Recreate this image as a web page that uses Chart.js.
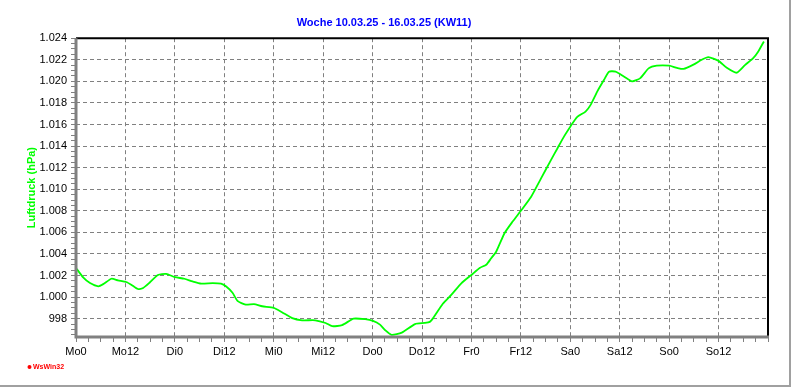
<!DOCTYPE html>
<html>
<head>
<meta charset="utf-8">
<script src="https://cdn.jsdelivr.net/npm/chart.js@4"></script>
<style>
  body { margin: 0; background: #fff; }
  canvas { display: block; }
</style>
</head>
<body>
<canvas id="wochen_chart" width="792" height="387"></canvas>
<script>
const titleText = "Woche 10.03.25 - 16.03.25 (KW11)";
const yTitle = "Luftdruck (hPa)";
const dayLabels = ["Mo0", "Mo12", "Di0", "Di12", "Mi0", "Mi12", "Do0", "Do12",
  "Fr0", "Fr12", "Sa0", "Sa12", "So0", "So12"];
// hours since Mo 0:00
const hours = [0, 1.8, 3.4, 5.4, 6.6, 8.6, 10.2, 12.2, 13.4, 15, 16.3, 17.9,
  19.9, 21.9, 24, 26.3, 28.3, 30.4, 33.2, 35.2, 36.4, 38, 39.2, 41.2, 43.2,
  45.2, 48, 50, 52.5, 54.9, 58.1, 60.6, 62.2, 64.6, 67.4, 70.2, 72.1, 73.8,
  75, 76.6, 79.1, 82.3, 84.7, 85.9, 86.7, 89.1, 91.1, 93.6, 96, 98, 99.6,
  100.8, 102, 104, 106, 108, 110.5, 112.9, 115.3, 116.9, 118.5, 120, 121.7,
  123.7, 124.9, 126.6, 128.2, 129.4, 131, 133, 135, 137, 139, 141, 144,
  145.9, 147.5, 149.9, 151.9, 153.5, 156, 158, 160.4, 162.4, 164.4, 165.6, 167];
const pressure = [1002.7, 1001.8, 1001.3, 1001.0, 1001.2, 1001.7, 1001.55,
  1001.4, 1001.15, 1000.75, 1000.85, 1001.35, 1002.05, 1002.15, 1001.85,
  1001.7, 1001.45, 1001.25, 1001.3, 1001.25, 1001.0, 1000.4, 999.65, 999.3,
  999.35, 999.15, 999.0, 998.6, 998.05, 997.85, 997.85, 997.6, 997.3, 997.4,
  998.0, 997.95, 997.8, 997.45, 996.95, 996.5, 996.7, 997.5, 997.6, 997.7,
  998.05, 999.4, 1000.2, 1001.3, 1002.05, 1002.7, 1003.0, 1003.6, 1004.2,
  1005.9, 1007.0, 1008.0, 1009.3, 1011.0, 1012.7, 1013.8, 1014.9, 1015.8,
  1016.7, 1017.2, 1017.8, 1019.1, 1020.15, 1020.9, 1020.9, 1020.45, 1020.0,
  1020.3, 1021.2, 1021.45, 1021.45, 1021.25, 1021.15, 1021.55, 1022.0,
  1022.25, 1021.9, 1021.25, 1020.8, 1021.5, 1022.15, 1022.75, 1023.7];

const points = hours.map((h, i) => ({ x: h, y: pressure[i] }));

function isMajor(v, step) {
  return Math.abs(v - Math.round(v / step) * step) < 1e-6;
}
function fmtHpa(v) {
  if (v >= 1000) return "1." + String(Math.round(v - 1000)).padStart(3, "0");
  return String(Math.round(v));
}

// frame round the plot + outer window edge + program tag
const framePlugin = {
  id: "frame",
  afterDraw(chart) {
    const { ctx, chartArea: a } = chart;
    ctx.save();
    ctx.lineWidth = 2;
    ctx.strokeStyle = "#000";
    ctx.beginPath();
    ctx.moveTo(a.left, a.top);
    ctx.lineTo(a.right, a.top);
    ctx.lineTo(a.right, a.bottom);
    ctx.stroke();
    ctx.lineWidth = 3;
    ctx.strokeStyle = "#808080";
    ctx.beginPath();
    ctx.moveTo(a.left, a.top);
    ctx.lineTo(a.left, a.bottom);
    ctx.lineTo(a.right + 1, a.bottom);
    ctx.stroke();
    ctx.lineWidth = 2;
    ctx.strokeStyle = "#a0a0a0";
    ctx.beginPath();
    ctx.moveTo(0, 386);
    ctx.lineTo(790, 386);
    ctx.lineTo(790, 0);
    ctx.stroke();
    ctx.fillStyle = "#ff0000";
    ctx.beginPath();
    ctx.arc(29.5, 367, 2, 0, Math.PI * 2);
    ctx.fill();
    ctx.font = "bold 7px 'Liberation Sans', Arial, sans-serif";
    ctx.textBaseline = "middle";
    ctx.fillText("WsWin32", 33, 367);
    ctx.restore();
  },
};

const config = {
  type: "line",
  data: {
    datasets: [{
      label: "Luftdruck",
      data: points,
      borderColor: "#00ff00",
      borderWidth: 1.8,
      pointRadius: 0,
      tension: 0.2,
      fill: false,
    }],
  },
  options: {
    responsive: false,
    animation: false,
    layout: { padding: { left: 0, right: 24, top: 0, bottom: 0 } },
    plugins: {
      legend: { display: false },
      tooltip: { enabled: false },
      title: {
        display: true,
        text: titleText,
        color: "#0000ff",
        font: { size: 11, weight: "bold", family: "'Liberation Sans', Arial, sans-serif" },
        padding: { top: 16, bottom: 9 },
      },
    },
    scales: {
      x: {
        type: "linear",
        min: 0,
        max: 168,
        afterFit: (s) => { s.height = 50; },
        border: { display: false, dash: [4, 3] },
        grid: {
          color: (c) => (c.tick && isMajor(c.tick.value, 12) ? "#808080" : "transparent"),
          tickColor: "#808080",
          tickLength: 5,
          lineWidth: 1,
        },
        ticks: {
          stepSize: 3,
          autoSkip: false,
          maxRotation: 0,
          padding: 3,
          color: "#000",
          font: { size: 11, family: "'Liberation Sans', Arial, sans-serif" },
          callback: (v) => (isMajor(v, 12) && v / 12 < dayLabels.length ? dayLabels[Math.round(v / 12)] : ""),
        },
      },
      y: {
        min: 996.3,
        max: 1024,
        afterFit: (s) => { s.width = 76; },
        border: { display: false, dash: [4, 3] },
        grid: {
          color: (c) => (c.tick && isMajor(c.tick.value, 2) ? "#808080" : "transparent"),
          tickColor: "#808080",
          tickLength: 5,
          lineWidth: 1,
        },
        ticks: {
          stepSize: 0.5,
          includeBounds: false,
          autoSkip: false,
          padding: 4,
          color: "#000",
          font: { size: 11, family: "'Liberation Sans', Arial, sans-serif" },
          callback: (v) => (isMajor(v, 2) ? fmtHpa(v) : ""),
        },
        title: {
          display: true,
          text: yTitle,
          color: "#00ff00",
          font: { size: 11, weight: "bold", family: "'Liberation Sans', Arial, sans-serif" },
          padding: { top: 25, bottom: 0 },
        },
      },
    },
  },
  plugins: [framePlugin],
};

new Chart(document.getElementById("wochen_chart"), config);
</script>
</body>
</html>
